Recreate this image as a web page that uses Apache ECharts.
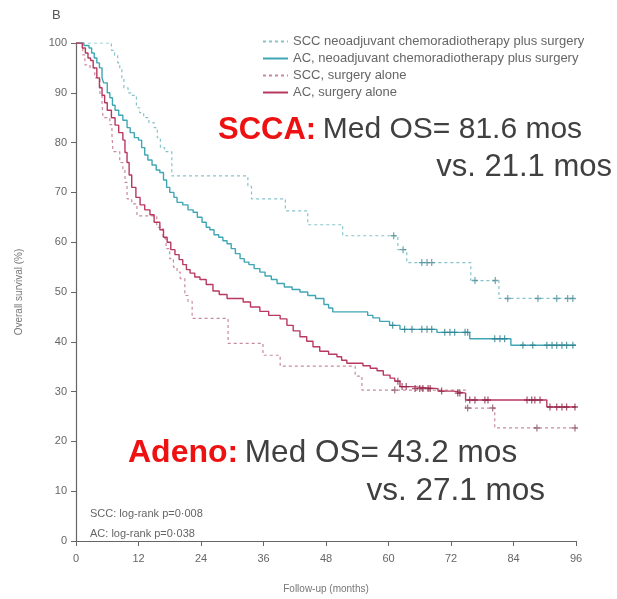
<!DOCTYPE html>
<html>
<head>
<meta charset="utf-8">
<script src="https://cdn.jsdelivr.net/npm/echarts@6/dist/echarts.min.js"></script>
<style>
html,body{margin:0;padding:0;background:#fff;}
#chart{width:617px;height:599px;}
</style>
</head>
<body>
<div id="chart"></div>
<script>
// ---- Data (months, overall survival %) ----
const seriesNames = [
  'SCC neoadjuvant chemoradiotherapy plus surgery',
  'AC, neoadjuvant chemoradiotherapy plus surgery',
  'SCC, surgery alone',
  'AC, surgery alone'
];
const xTicks = [0, 12, 24, 36, 48, 60, 72, 84, 96];
const yTicks = [0, 10, 20, 30, 40, 50, 60, 70, 80, 90, 100];

const sccNeo = [[0,100],[6.2,100],[6.8,98.5],[7.4,97.5],[8,96],[8.4,95],[8.8,93],[9.2,91],[10,90],[10.8,89.5],[11.6,87],[12.2,86],[13,85],[14,84],[15,83],[15.6,81],[16.2,79],[17,78.2],[18.4,73.3],[33,71.2],[33.7,68.7],[40.2,66.3],[44.5,63.5],[51.2,61.3],[61.8,58.5],[63.5,55.9],[75.8,52.3],[81.2,48.7],[96,48.7]];
const sccNeoCens = [[61.0,61.3],[62.8,58.5],[66.4,55.9],[67.4,55.9],[68.3,55.9],[76.6,52.3],[80.5,52.3],[82.9,48.7],[88.7,48.7],[92.3,48.7],[94.4,48.7],[95.4,48.7]];

const acNeo = [[0,100],[1.5,99.5],[2.5,99],[3,98],[3.5,97],[4,96],[4.5,95],[5,93],[5.3,92],[6,90],[6.5,89],[7,87.5],[7.5,86.5],[8.2,85.5],[9,84.5],[9.8,83],[10.4,82],[11.2,81],[12,80.5],[12.6,79],[13.2,77.5],[13.8,76.5],[14.6,75.5],[15.4,74.5],[16.1,74],[16.8,72.5],[17.4,71],[18,70],[18.8,69],[19.4,68],[20.5,67.5],[21.5,66.5],[22.5,66],[23.3,65],[24.2,64],[25,63],[25.7,62.5],[26.5,61.5],[27.4,61],[28.2,60.3],[29,59.7],[29.8,58.7],[30.6,57.7],[31.5,56.7],[32.3,56],[33.2,55.5],[34.2,54.7],[35.3,54],[36.3,53.2],[37.5,52.5],[38.6,51.7],[40,51],[41.5,50.5],[43,50],[44.5,49.3],[46,48.7],[47.6,47.5],[48.5,46.8],[49.3,46],[56,45.3],[57,44.8],[58.3,44.1],[60.2,43.3],[62.2,42.5],[69.3,41.9],[75.6,40.6],[83.5,39.3],[96,39.3]];
const acNeoCens = [[60.8,43.3],[63.1,42.5],[64.5,42.5],[66.4,42.5],[67.4,42.5],[68.3,42.5],[70.8,41.9],[71.8,41.9],[72.7,41.9],[74.7,41.9],[75.2,41.9],[80.4,40.6],[81.4,40.6],[82.3,40.6],[85.8,39.3],[87.7,39.3],[90.4,39.3],[91.4,39.3],[92.3,39.3],[93.3,39.3],[94.2,39.3],[95.4,39.3]];

const sccSurg = [[0,100],[1.3,97.6],[1.7,95.6],[2.7,95],[3.6,93],[4.6,89.6],[5,87.6],[5.2,85],[6.5,83.6],[6.9,81.6],[7.1,78.2],[8.4,76],[9,74.6],[9.4,72],[9.8,68.7],[10.7,67.7],[11.7,65.3],[15.5,63],[16.7,60.7],[17.3,58.7],[18,56.7],[18.7,55],[19.4,54],[20,52.7],[20.9,49.3],[21.5,48.1],[22.3,44.7],[29.2,39.7],[35.9,37.3],[39.2,35.1],[53.6,33.1],[54.9,30.3],[74.8,26.7],[80.4,22.7],[96,22.7]];
const sccSurgCens = [[61.2,30.3],[75.2,26.7],[80.0,26.7],[88.5,22.7],[95.8,22.7]];

const acSurg = [[0,100],[1.2,99],[1.8,98],[2.3,97],[2.8,96.5],[3.3,95],[4,93],[4.5,91],[5,89.5],[5.5,88],[6,86.5],[6.8,85],[7.5,83.5],[8.2,82],[9,80.5],[9.4,78],[9.8,76],[10.2,73.5],[10.7,71],[11.5,69],[12.3,67.5],[13.2,66.5],[14.2,65.5],[15,64],[16.1,62.5],[16.8,61],[17.5,60],[18.2,58.5],[19,57.5],[19.8,56.5],[20.5,55.5],[21.2,54.5],[21.9,53.8],[22.8,53],[23.8,52.5],[25,51.5],[26.3,50.2],[27.5,49.5],[29,48.7],[32.1,48],[33.5,47],[35.3,46.1],[37,45.3],[39.2,44.6],[40.5,43.3],[41.7,42.2],[43,41],[44.3,40.1],[45.5,39],[46.8,38.1],[48.5,37.5],[50.1,37],[51,36.3],[52,35.7],[55.1,35.2],[56.5,34.7],[57.8,34.2],[59,33.3],[60.3,32.7],[61.2,32.1],[62.2,31.0],[64.5,30.6],[69.5,30.1],[72.5,29.7],[74.8,28.3],[90.4,26.9],[96,26.9]];
const acSurgCens = [[61.8,32.1],[62.6,31.0],[63.4,31.0],[65.1,30.6],[66.0,30.6],[66.6,30.6],[67.6,30.6],[68.0,30.6],[70.2,30.1],[73.3,29.7],[73.7,29.7],[75.6,28.3],[76.6,28.3],[78.5,28.3],[79.1,28.3],[86.6,28.3],[87.5,28.3],[88.1,28.3],[89.1,28.3],[91.0,26.9],[92.3,26.9],[93.3,26.9],[94.2,26.9],[95.8,26.9]];

// ---- Styles ----
const colSccNeo = '#86c3cc';
const colAcNeo = '#3ea6b4';
const colSccSurg = '#c98a9c';
const colAcSurg = '#b8385f';
const plus = 'path://M4,0H6V4H10V6H6V10H4V6H0V4H4Z';
const axisCol = '#666';
const font = 'Liberation Sans, Arial, sans-serif';
const red = '#ee1111';
const dark = '#404040';

function km(name, data, color, type, width) {
  return {
    name: name, type: 'line', step: 'end', data: data, symbol: 'none',
    lineStyle: {color: color, width: width, type: type},
    itemStyle: {color: color}, z: 3, animation: false
  };
}
function cens(data, color) {
  return {
    type: 'scatter', data: data, symbol: plus, symbolSize: [6, 7],
    itemStyle: {color: color}, z: 4, animation: false, silent: true
  };
}

const chart = echarts.init(document.getElementById('chart'), null, {renderer: 'canvas'});
chart.setOption({
  backgroundColor: '#fff',
  animation: false,
  grid: {left: 76, right: 41, top: 43, bottom: 55},
  legend: {
    data: seriesNames.map(n => ({name: n})),
    orient: 'vertical', left: 262, top: 35, padding: 0,
    itemWidth: 25, itemHeight: 10, itemGap: 4,
    itemStyle: {opacity: 0},
    textStyle: {fontFamily: font, fontSize: 13, color: '#666'},
    selectedMode: false
  },
  xAxis: {
    type: 'value', min: xTicks[0], max: xTicks[xTicks.length - 1], interval: 12,
    name: 'Follow-up (months)', nameLocation: 'middle', nameGap: 43,
    nameTextStyle: {fontFamily: font, fontSize: 10, color: '#777'},
    axisLine: {show: true, lineStyle: {color: axisCol, width: 1.2}},
    axisTick: {show: true, length: 5, lineStyle: {color: axisCol}},
    axisLabel: {fontFamily: font, fontSize: 11, color: '#666', margin: 12},
    splitLine: {show: false}
  },
  yAxis: {
    type: 'value', min: yTicks[0], max: yTicks[yTicks.length - 1], interval: 10,
    name: 'Overall survival (%)', nameLocation: 'middle', nameGap: 52, nameRotate: 90,
    nameTextStyle: {fontFamily: font, fontSize: 10, color: '#777'},
    axisLine: {show: true, lineStyle: {color: axisCol, width: 1.2}},
    axisTick: {show: true, length: 5, lineStyle: {color: axisCol}},
    axisLabel: {fontFamily: font, fontSize: 11, color: '#666', margin: 9},
    splitLine: {show: false}
  },
  series: [
    km(seriesNames[0], sccNeo, colSccNeo, [3, 3], 1.2),
    km(seriesNames[1], acNeo, colAcNeo, 'solid', 1.4),
    km(seriesNames[2], sccSurg, colSccSurg, [3, 3], 1.2),
    km(seriesNames[3], acSurg, colAcSurg, 'solid', 1.4),
    cens(sccNeoCens, '#4e8f99'),
    cens(acNeoCens, '#2d8190'),
    cens(sccSurgCens, '#8a4a5e'),
    cens(acSurgCens, '#8e2447')
  ],
  graphic: [
    {type: 'text', left: 52, top: 9, style: {text: 'B', font: '13px ' + font, fill: '#555'}},
    {type: 'text', x: 218, y: 130, style: {
      text: '{a|SCCA:}  {b|Med OS= 81.6 mos}', verticalAlign: 'middle', fill: dark,
      rich: {a: {fontFamily: font, fontSize: 31, fontWeight: 'bold', fill: red},
             b: {fontFamily: font, fontSize: 30, fill: dark}}}},
    {type: 'text', x: 612, y: 167, style: {text: 'vs. 21.1 mos', align: 'right', verticalAlign: 'middle',
      font: '31px ' + font, fill: dark}},
    {type: 'text', x: 128, y: 453, style: {
      text: '{a|Adeno:}  {b|Med OS= 43.2 mos}', verticalAlign: 'middle', fill: dark,
      rich: {a: {fontFamily: font, fontSize: 32, fontWeight: 'bold', fill: red},
             b: {fontFamily: font, fontSize: 31.5, fill: dark}}}},
    {type: 'text', x: 545, y: 491, style: {text: 'vs. 27.1 mos', align: 'right', verticalAlign: 'middle',
      font: '31.5px ' + font, fill: dark}},
    {type: 'text', x: 90, y: 514, style: {text: 'SCC: log-rank p=0·008', verticalAlign: 'middle',
      font: '11px ' + font, fill: '#666'}},
    {type: 'text', x: 90, y: 534, style: {text: 'AC: log-rank p=0·038', verticalAlign: 'middle',
      font: '11px ' + font, fill: '#666'}}
  ]
});
</script>
</body>
</html>
